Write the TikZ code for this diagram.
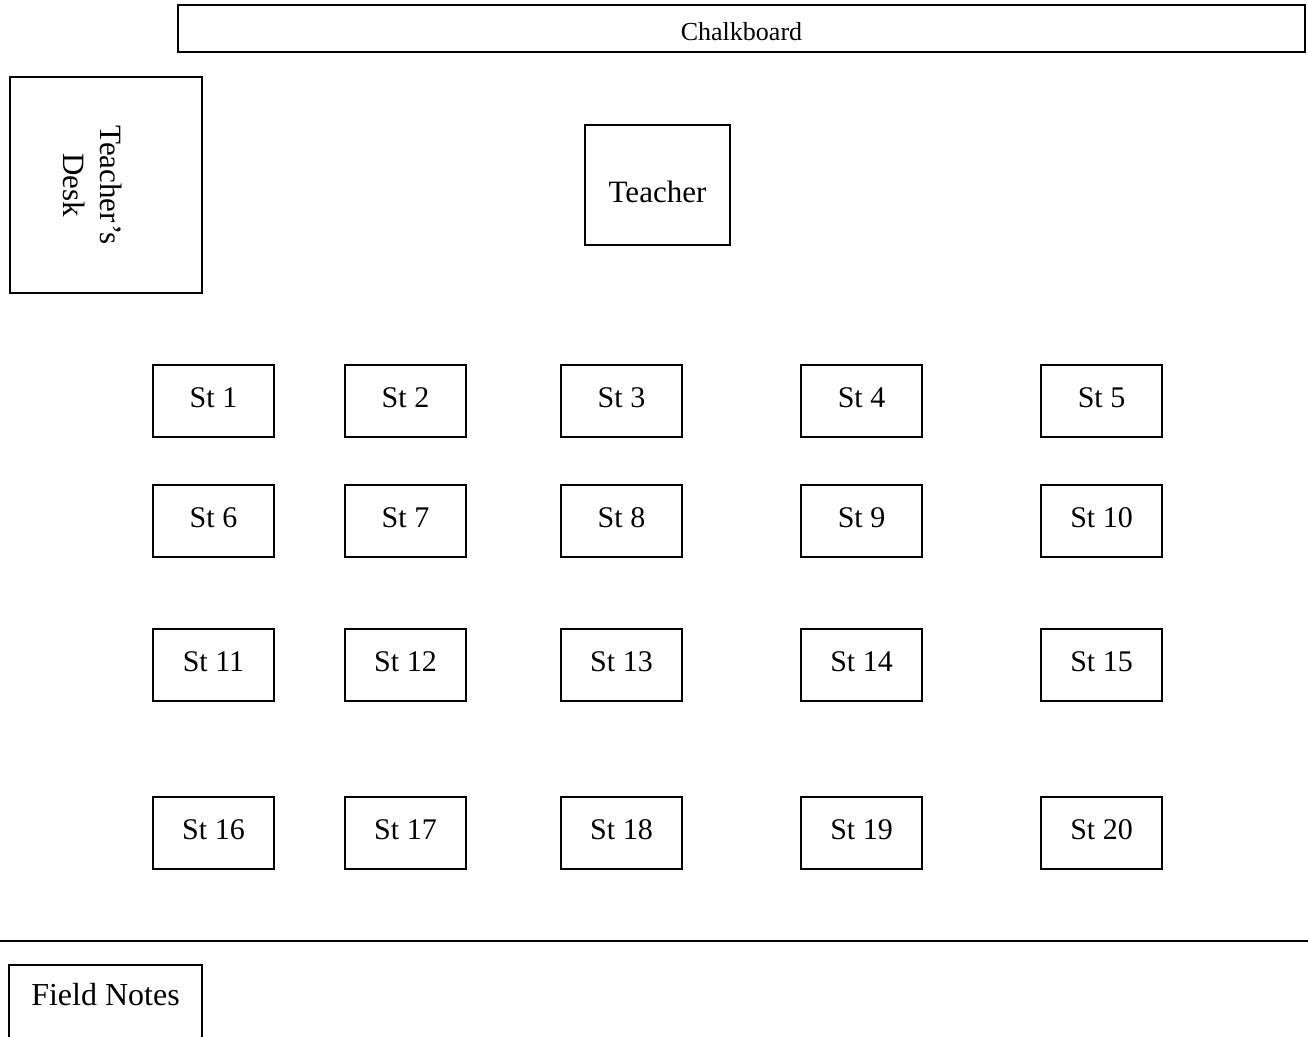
\documentclass[tikz,border=0pt]{standalone}
\usepackage{fontspec}
\setmainfont{Liberation Serif}
\begin{document}
\begin{tikzpicture}[x=1pt,y=-1pt,
  box/.style={draw,line width=2pt,inner sep=0pt},
  seat/.style={box,minimum width=121pt,minimum height=72pt,text height=42pt,text depth=30pt,font=\fontsize{30}{36}\selectfont},
]
\useasboundingbox (0,0) rectangle (1308,1036);
\clip (0,0) rectangle (1308,1036);
\fill[white] (0,0) rectangle (1308,1036);

% chalkboard
\node[box,minimum width=1127pt,minimum height=47pt,text height=35pt,text depth=12pt,font=\fontsize{26}{30}\selectfont] (chalk) at (741.5,28.5) {Chalkboard};

% teacher's desk
\node[box,minimum width=192pt,minimum height=216pt] (desk) at (106,185) {};
\node[rotate=-90,align=center,inner sep=0pt,font=\fontsize{31}{37}\selectfont] (desktext) at (93,185) {Teacher’s\\Desk};

% teacher
\node[box,minimum width=145pt,minimum height=120pt,text height=77pt,text depth=43pt,font=\fontsize{31}{36}\selectfont] (teacher) at (657.5,185) {Teacher};

% students
\foreach \r/\yy in {0/401,1/521,2/665,3/833}{
  \foreach \c/\xx in {1/213.5,2/405.5,3/621.5,4/861.5,5/1101.5}{
    \pgfmathtruncatemacro{\n}{\r*5+\c}
    \node[seat] (st\n) at (\xx,\yy) {St \n};
  }
}

% divider line
\coordinate (lineL) at (0,941);
\coordinate (lineR) at (1308,941);
\draw[line width=2pt] (lineL) -- (lineR);

% field notes
\node[box,minimum width=193pt,minimum height=80pt,text height=40pt,text depth=40pt,font=\fontsize{32}{38}\selectfont] (notes) at (105.5,1005) {Field Notes};
\end{tikzpicture}
\end{document}
